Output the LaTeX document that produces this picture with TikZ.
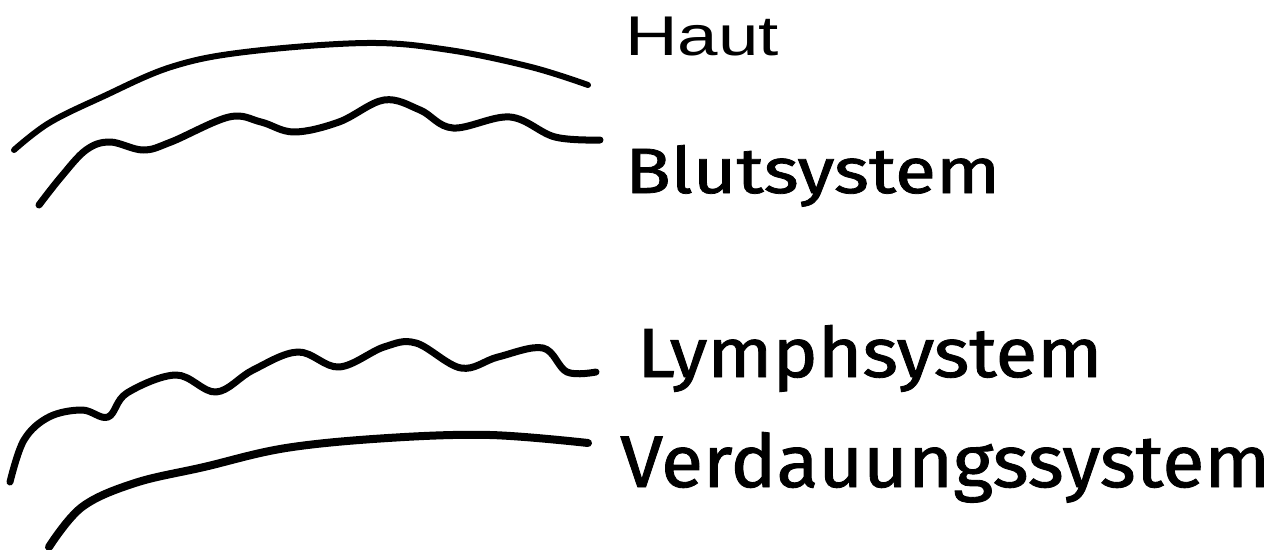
\documentclass[tikz,border=0pt]{standalone}
\usepackage{fontspec}
\setmainfont{Liberation Sans}
\newfontfamily\handfont{Fira Sans}[FakeBold=1.2]
\begin{document}
\begin{tikzpicture}[x=1pt, y=-1pt,
    layer/.style={line width=7pt, line cap=round, line join=round},
    print/.style={anchor=base west, inner sep=0pt, xscale=1.3, font=\fontsize{56}{56}\selectfont},
    hand/.style={anchor=base west, inner sep=0pt, font=\handfont},
]
\useasboundingbox (0,0) rectangle (1272,549);

% Schichten
\draw[layer, line width=6pt] plot[smooth, tension=0.6] coordinates {(14,150) (49,123) (102,97) (171,67) (245,52) (367,43) (449,50) (531,67) (588,85)};
\draw[layer] plot[smooth, tension=0.6] coordinates {(39,205) (61,177) (86,150) (110,142) (143,150) (171,142) (229,117) (261,122) (294,132) (339,122) (384,100) (420,110) (453,128) (510,117) (555,137) (600,140)};
\draw[layer] plot[smooth, tension=0.6] coordinates {(10,482) (24,440) (49,417) (82,410) (108,417) (127,393) (176,375) (216,392) (253,370) (298,352) (339,367) (384,347) (416,343) (461,368) (498,357) (543,348) (567,372) (596,372)};
\draw[layer, line width=8pt] plot[smooth, tension=0.6] coordinates {(49,547) (82,507) (135,483) (204,467) (286,448) (388,438) (490,435) (588,443)};

% Beschriftungen
\node[print] (haut) at (625,55) {Haut};
\node[hand] (blut) at (625,193) {\resizebox{375pt}{48pt}{Blutsystem}};
\node[hand] (lymph) at (637,377) {\resizebox{465pt}{52pt}{Lymphsystem}};
\node[hand] (verdauung) at (620,487) {\resizebox{650pt}{55pt}{Verdauungssystem}};

\end{tikzpicture}
\end{document}
